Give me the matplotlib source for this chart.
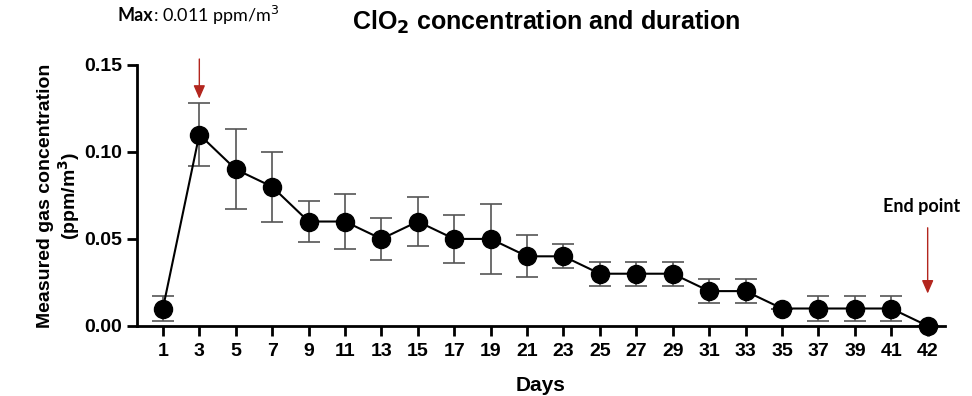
import numpy as np
import matplotlib
matplotlib.use('Agg')
import matplotlib.pyplot as plt

# Data
days = ['1', '3', '5', '7', '9', '11', '13', '15', '17', '19', '21',
        '23', '25', '27', '29', '31', '33', '35', '37', '39', '41', '42']
concentration = [0.01, 0.11, 0.09, 0.08, 0.06, 0.06, 0.05, 0.06, 0.05, 0.05, 0.04,
                 0.04, 0.03, 0.03, 0.03, 0.02, 0.02, 0.01, 0.01, 0.01, 0.01, 0.00]
error = [0.007, 0.018, 0.023, 0.020, 0.012, 0.016, 0.012, 0.014, 0.014, 0.020, 0.012,
         0.007, 0.007, 0.007, 0.007, 0.007, 0.007, 0.0, 0.007, 0.007, 0.007, 0.0]

plt.rcParams['font.family'] = ['Liberation Sans', 'DejaVu Sans']

fig = plt.figure(figsize=(9.72, 3.96), dpi=100)
ax = fig.add_axes([0.141, 0.177, 0.831, 0.659])

x = np.arange(len(days))
ax.errorbar(x, concentration, yerr=error, fmt='none', ecolor='#555555',
            elinewidth=1.2, capsize=8, capthick=1.2, zorder=2)
ax.plot(x, concentration, color='black', lw=1.5, marker='o', ms=13, zorder=3,
        clip_on=False)

ax.set_xlim(-0.71, 21.47)
ax.set_ylim(0, 0.15)
ax.set_yticks([0.00, 0.05, 0.10, 0.15])
ax.set_yticklabels(['0.00', '0.05', '0.10', '0.15'])
ax.set_xticks(x)
ax.set_xticklabels(days)

for s in ['top', 'right']:
    ax.spines[s].set_visible(False)
for s in ['left', 'bottom']:
    ax.spines[s].set_linewidth(2)
ax.tick_params(axis='both', direction='out', length=7, width=2, labelsize=14)
ax.tick_params(axis='x', pad=5)
for lbl in ax.get_xticklabels() + ax.get_yticklabels():
    lbl.set_fontweight('bold')

ax.set_xlabel('Days', fontsize=15, fontweight='bold', labelpad=12)
ax.set_ylabel('Measured gas concentration\n(ppm/m$^\\mathbf{3}$)', fontsize=14,
              fontweight='bold', labelpad=2, linespacing=1.1)
fig.text(0.562, 0.944, 'ClO$_\\mathbf{2}$ concentration and duration',
         ha='center', va='center', fontsize=18, fontweight='bold')

red = '#b3261e'
# Max annotation
ax.annotate('', xy=(1, 0.129), xytext=(1, 0.155), xycoords='data',
            annotation_clip=False,
            arrowprops=dict(arrowstyle='-|>,head_width=0.35,head_length=0.8',
                            color=red, lw=1))
fig.text(0.1574, 0.962, 'Max', ha='right', va='center', fontsize=13,
         fontweight='bold', family='Lato')
fig.text(0.1574, 0.962, ': 0.011 ppm/m$^3$', ha='left', va='center',
         fontsize=13, family='Lato')

# End point annotation
ax.annotate('', xy=(21, 0.017), xytext=(21, 0.058), xycoords='data',
            annotation_clip=False,
            arrowprops=dict(arrowstyle='-|>,head_width=0.35,head_length=0.8',
                            color=red, lw=1))
ax.text(20.83, 0.0684, 'End point', ha='center', va='center', fontsize=13,
        fontweight='bold', family='Lato')

fig.savefig('out.png', dpi=100)
